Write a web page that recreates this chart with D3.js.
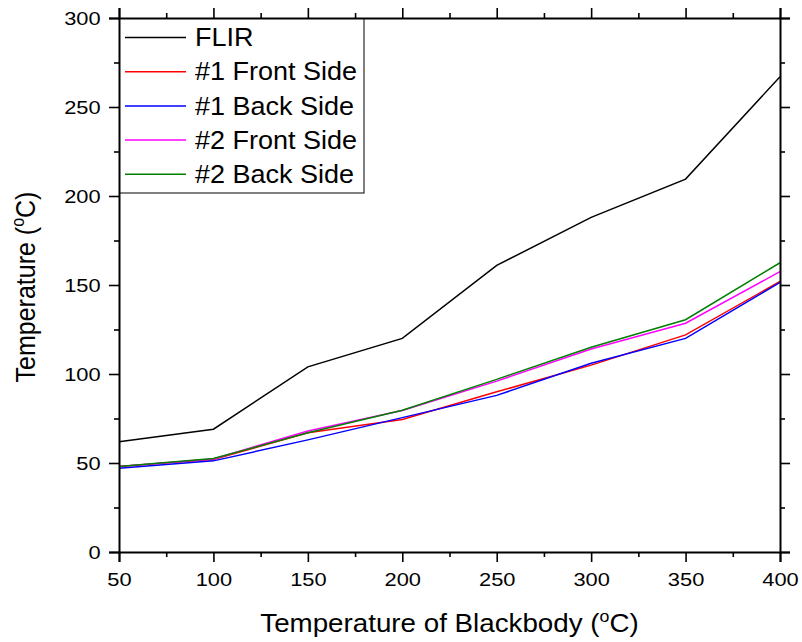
<!DOCTYPE html>
<html>
<head>
<meta charset="utf-8">
<script src="https://cdn.jsdelivr.net/npm/d3@7"></script>
<style>
  body { margin: 0; background: #fff; }
  svg text { font-family: "Liberation Sans", Arial, sans-serif; fill: #000; }
</style>
</head>
<body>
<div id="chart"></div>
<script>
// blackbody set points
const blackbody = [50, 100, 150, 200, 250, 300, 350, 400];

const seriesNames = ['FLIR', '#1 Front Side', '#1 Back Side', '#2 Front Side', '#2 Back Side'];
const seriesColors = ['#000000', '#ff0000', '#0000ff', '#ff00ff', '#008000'];

const flir = [62, 69, 104, 120, 161, 188, 209.5, 267];
const front1 = [48, 52, 67, 74.5, 90, 105, 122, 152];
const back1 = [47, 51.2, 63, 75.5, 88, 106, 120, 151.5];
const front2 = [48, 52.3, 68, 79.5, 96, 114, 128.5, 157.5];
const back2 = [48, 52.5, 67, 79.6, 97, 115, 130.5, 162.5];

const seriesValues = [flir, front1, back1, front2, back2];

const xTicks = [50, 100, 150, 200, 250, 300, 350, 400];
const yTicks = [0, 50, 100, 150, 200, 250, 300];

const width = 802, height = 642;
const margin = { left: 119, right: 22, top: 18, bottom: 90 };

const svg = d3.select('#chart').append('svg')
  .attr('width', width)
  .attr('height', height);

const x = d3.scaleLinear().domain([50, 400]).range([margin.left, width - margin.right]);
const y = d3.scaleLinear().domain([0, 300]).range([height - margin.bottom, margin.top]);

const minorX = d3.range(75, 400, 50);
const minorY = d3.range(25, 300, 50);

// data lines
const line = d3.line()
  .x((d, i) => x(blackbody[i]))
  .y(d => y(d));

seriesValues.forEach((vals, k) => {
  svg.append('path')
    .datum(vals)
    .attr('d', line)
    .attr('fill', 'none')
    .attr('stroke', seriesColors[k])
    .attr('stroke-width', 1.5);
});

// axes: all ticks outward, major 10px minor 5px
function drawAxis(axisFn, scale, major, minor, transform, showLabels) {
  const g = svg.append('g').attr('transform', transform);
  g.call(axisFn(scale).tickValues(major).tickSize(10).tickPadding(11)
    .tickFormat(showLabels ? d3.format('d') : ''));
  g.append('g').call(axisFn(scale).tickValues(minor).tickSize(5).tickFormat(''))
    .select('.domain').remove();
  g.selectAll('.domain').attr('stroke-width', 2).attr('stroke', '#000');
  g.selectAll('.tick line').attr('stroke-width', 1.6).attr('stroke', '#000');
  g.selectAll('.tick text')
    .attr('font-family', null)
    .style('font-size', '19px')
    .attr('fill', '#000')
    .attr('transform', 'scale(1.15,1)');
  return g;
}

const x0 = margin.left, x1 = width - margin.right;
const y0 = height - margin.bottom, y1 = margin.top;

drawAxis(d3.axisBottom, x, xTicks, minorX, `translate(0,${y0})`, true);
drawAxis(d3.axisTop, x, xTicks, minorX, `translate(0,${y1})`, false);
drawAxis(d3.axisLeft, y, yTicks, minorY, `translate(${x0},0)`, true)
  .selectAll('.tick text').attr('x', -16);
drawAxis(d3.axisRight, y, yTicks, minorY, `translate(${x1},0)`, false);

// axis titles
const xTitle = svg.append('text')
  .attr('transform', `translate(${(x0 + x1) / 2},632) scale(1.11,1)`)
  .attr('text-anchor', 'middle')
  .style('font-size', '25px');
xTitle.append('tspan').text('Temperature of Blackbody (');
xTitle.append('tspan').text('o').attr('dy', -10).style('font-size', '16px');
xTitle.append('tspan').text('C)').attr('dy', 10);

const yTitle = svg.append('text')
  .attr('transform', `translate(35,${(y0 + y1) / 2 + 2}) rotate(-90) scale(1,1.1)`)
  .attr('text-anchor', 'middle')
  .style('font-size', '25px');
yTitle.append('tspan').text('Temperature (');
yTitle.append('tspan').text('o').attr('dy', -10).style('font-size', '16px');
yTitle.append('tspan').text('C)').attr('dy', 10);

// legend
const legend = svg.append('g').attr('transform', `translate(${x0 + 1},${y1 + 1})`);
legend.append('rect')
  .attr('width', 244)
  .attr('height', 174)
  .attr('fill', '#fff')
  .attr('stroke', '#000')
  .attr('stroke-width', 1);

seriesNames.forEach((name, i) => {
  const ly = 18.5 + i * 34.2;
  legend.append('line')
    .attr('x1', 5).attr('x2', 66)
    .attr('y1', ly).attr('y2', ly)
    .attr('stroke', seriesColors[i])
    .attr('stroke-width', 1.5);
  legend.append('text')
    .attr('transform', `translate(75,${ly}) scale(1.08,1)`)
    .attr('dy', '0.35em')
    .style('font-size', '25px')
    .text(name);
});
</script>
</body>
</html>
